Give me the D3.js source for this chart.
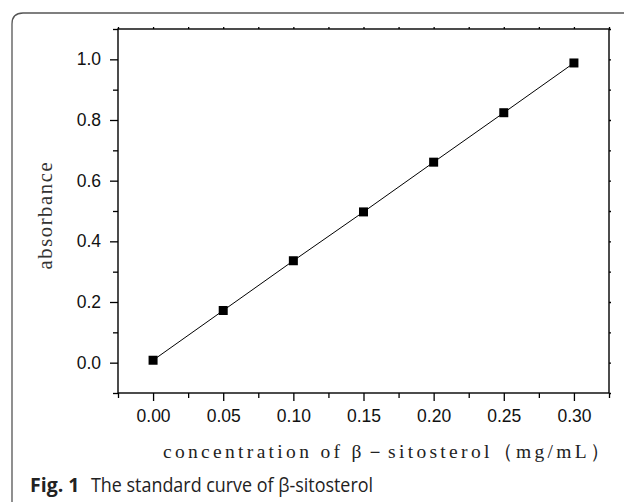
<!DOCTYPE html>
<html>
<head>
<meta charset="utf-8">
<script src="https://cdnjs.cloudflare.com/ajax/libs/d3/7.8.5/d3.min.js"></script>
<style>
    body { margin: 0; background: #fff; }
    svg { display: block; }
</style>
</head>
<body>
<svg id="chart" width="624" height="502"></svg>
<script>
//Data
const concentration = [0.00, 0.05, 0.10, 0.15, 0.20, 0.25, 0.30];
const absorbance = [0.008, 0.172, 0.336, 0.497, 0.661, 0.824, 0.988];
const xTicks = [0.00, 0.05, 0.10, 0.15, 0.20, 0.25, 0.30];
const xMinorTicks = [-0.025, 0.025, 0.075, 0.125, 0.175, 0.225, 0.275, 0.325];
const yTicks = [0.0, 0.2, 0.4, 0.6, 0.8, 1.0];
const yMinorTicks = [-0.1, 0.1, 0.3, 0.5, 0.7, 0.9, 1.1];

//Measuring data (in px)
let plotLeft = 118, plotRight = 609, plotTop = 29, plotBottom = 393;

let svg = d3.select("#chart");

//Scales
let xScale = d3.scaleLinear().domain([-0.025, 0.325]).range([plotLeft, plotRight]);
let yScale = d3.scaleLinear().domain([-0.1, 1.1]).range([plotBottom, plotTop]);

//Outer frame with rounded corner
svg.append("path")
    .attr("d", "M12,510 L12,24 Q12,13 23,13 L630,13")
    .attr("fill", "none")
    .attr("stroke", "#555")
    .attr("stroke-width", 1.3);

//Axes helper
function drawAxis(axis, transform) {
    let g = svg.append("g").attr("transform", transform).call(axis);
    g.select(".domain").remove();
    g.selectAll("line").attr("stroke", "#000").attr("stroke-width", 1.3);
    g.selectAll("text")
        .attr("font-family", "Liberation Sans, Arial, sans-serif")
        .attr("font-size", 17.5)
        .attr("fill", "#111");
    return g;
}

//Bottom axis
drawAxis(d3.axisBottom(xScale).tickValues(xTicks).tickSize(8).tickPadding(9)
    .tickFormat(d3.format(".2f")), `translate(0,${plotBottom})`);
drawAxis(d3.axisBottom(xScale).tickValues(xMinorTicks).tickSize(5).tickFormat(""),
    `translate(0,${plotBottom})`);

//Left axis
drawAxis(d3.axisLeft(yScale).tickValues(yTicks).tickSize(8).tickPadding(9)
    .tickFormat(d3.format(".1f")), `translate(${plotLeft},0)`);
drawAxis(d3.axisLeft(yScale).tickValues(yMinorTicks).tickSize(5).tickFormat(""),
    `translate(${plotLeft},0)`);

//Top and right axes (small ticks only)
drawAxis(d3.axisTop(xScale).tickValues(xTicks.concat(xMinorTicks)).tickSize(2).tickFormat(""),
    `translate(0,${plotTop})`);
drawAxis(d3.axisRight(yScale).tickValues(yTicks.concat(yMinorTicks)).tickSize(2).tickFormat(""),
    `translate(${plotRight},0)`);

//Plot frame
svg.append("rect")
    .attr("x", plotLeft).attr("y", plotTop)
    .attr("width", plotRight - plotLeft).attr("height", plotBottom - plotTop)
    .attr("fill", "none")
    .attr("stroke", "#000")
    .attr("stroke-width", 1.4);

//Line through the points
let points = concentration.map((c, i) => [c, absorbance[i]]);
svg.append("path")
    .datum(points)
    .attr("fill", "none")
    .attr("stroke", "#000")
    .attr("stroke-width", 1)
    .attr("d", d3.line().x(d => xScale(d[0])).y(d => yScale(d[1])));

//Square markers
svg.append("g")
    .selectAll("rect")
    .data(points)
    .enter()
    .append("rect")
    .attr("x", d => xScale(d[0]) - 4.5)
    .attr("y", d => yScale(d[1]) - 4.5)
    .attr("width", 9)
    .attr("height", 9)
    .attr("fill", "#000");

//Axis titles
svg.append("text")
    .attr("x", 163).attr("y", 458)
    .attr("textLength", 447)
    .attr("lengthAdjust", "spacing")
    .attr("font-family", "Liberation Serif, serif")
    .attr("font-size", 19.5)
    .attr("fill", "#222")
    .text("concentration of β－sitosterol（mg/mL）");

svg.append("text")
    .attr("transform", "translate(52,216) rotate(-90)")
    .attr("text-anchor", "middle")
    .attr("textLength", 107)
    .attr("lengthAdjust", "spacing")
    .attr("font-family", "Liberation Serif, serif")
    .attr("font-size", 20.5)
    .attr("fill", "#333")
    .text("absorbance");

//Caption
let caption = svg.append("g")
    .attr("font-family", "Open Sans, Noto Sans, sans-serif")
    .attr("font-size", 19.5)
    .attr("fill", "#222");
caption.append("text")
    .attr("x", 30).attr("y", 492)
    .attr("font-weight", "bold")
    .text("Fig. 1");
caption.append("text")
    .attr("x", 91).attr("y", 492)
    .attr("textLength", 282)
    .attr("lengthAdjust", "spacingAndGlyphs")
    .text("The standard curve of β-sitosterol");
</script>
</body>
</html>
